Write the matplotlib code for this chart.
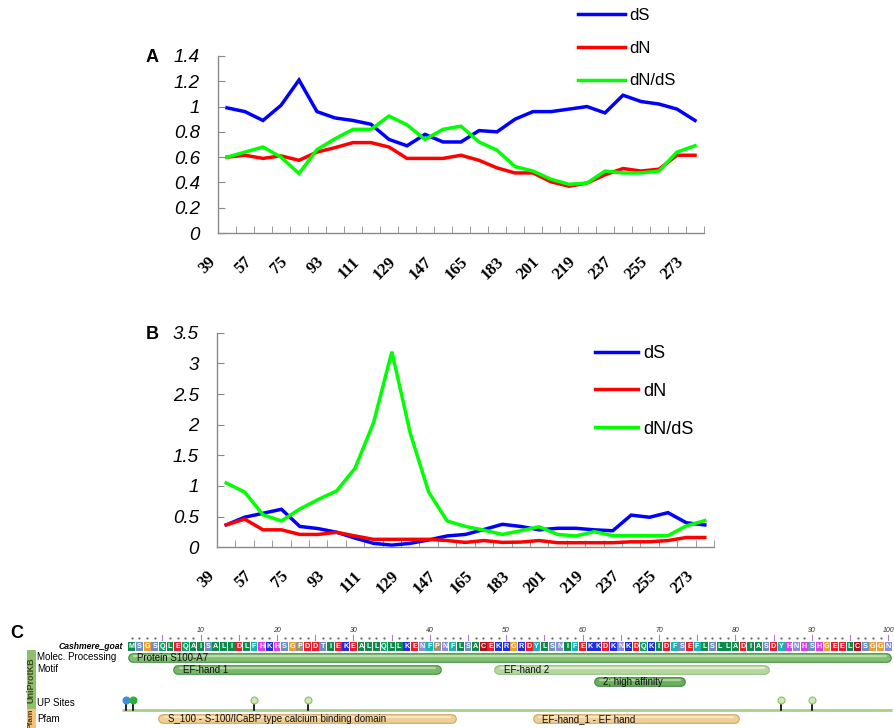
import numpy as np
import matplotlib.pyplot as plt
from matplotlib.patches import Rectangle
from matplotlib.transforms import ScaledTranslation

plt.rcParams['font.family'] = ['Liberation Sans', 'DejaVu Sans']

# window start positions (codon) on the x axis
sites = [39, 48, 57, 66, 75, 84, 93, 102, 111, 120, 129, 138, 147, 156,
         165, 174, 183, 192, 201, 210, 219, 228, 237, 246, 255, 264, 273]

# panel A
dS_a = [0.99, 0.96, 0.89, 1.01, 1.21, 0.96, 0.91, 0.89, 0.86, 0.74, 0.69, 0.78, 0.72, 0.72,
        0.81, 0.80, 0.90, 0.96, 0.96, 0.98, 1.00, 0.95, 1.09, 1.04, 1.02, 0.98, 0.89]
dN_a = [0.60, 0.615, 0.59, 0.61, 0.575, 0.64, 0.675, 0.715, 0.715, 0.68, 0.59, 0.59, 0.59, 0.615,
        0.575, 0.515, 0.475, 0.475, 0.405, 0.37, 0.395, 0.46, 0.51, 0.49, 0.505, 0.615, 0.615]
ratio_a = [0.60, 0.64, 0.68, 0.60, 0.47, 0.66, 0.745, 0.82, 0.82, 0.925, 0.855, 0.74, 0.82, 0.845,
           0.72, 0.655, 0.525, 0.49, 0.425, 0.385, 0.395, 0.49, 0.475, 0.475, 0.49, 0.64, 0.69]

# panel B
dS_b = [0.365, 0.49, 0.555, 0.62, 0.34, 0.305, 0.245, 0.15, 0.065, 0.035, 0.065, 0.12, 0.185, 0.21,
        0.29, 0.375, 0.34, 0.285, 0.31, 0.31, 0.285, 0.27, 0.525, 0.49, 0.565, 0.40, 0.365]
dN_b = [0.365, 0.46, 0.285, 0.285, 0.21, 0.21, 0.245, 0.185, 0.13, 0.13, 0.13, 0.13, 0.11, 0.08,
        0.11, 0.08, 0.085, 0.11, 0.075, 0.075, 0.075, 0.075, 0.09, 0.09, 0.11, 0.16, 0.16]
ratio_b = [1.05, 0.90, 0.53, 0.43, 0.625, 0.78, 0.92, 1.29, 2.03, 3.19, 1.86, 0.90, 0.43, 0.34,
           0.28, 0.21, 0.27, 0.335, 0.21, 0.185, 0.255, 0.19, 0.19, 0.19, 0.19, 0.35, 0.435]

series_names = ['dS', 'dN', 'dN/dS']
series_colors = ['#0000ff', '#ff0000', '#00ff00']

# panel C
species = 'Cashmere_goat'
seq = ('MSGSQLEQAISALIDLFHKHSGPDDTIEKEALLQLLKENFPN'
       'FLSACEKRGRDYLSNIFEKKDKNKDQKIDFSEFLSLLADIASDYHNHSHGEELCSGGN')
molec = [('Protein S100-A7', 1, 100)]
motif = [('EF-hand 1', 7, 41), ('EF-hand 2', 49, 84)]
motif2 = [('2; high affinity', 62, 73)]
pfam = [('S_100 - S-100/ICaBP type calcium binding domain', 5, 43),
        ('EF-hand_1 - EF hand', 54, 80)]
up_sites = [0.3, 1.2, 17, 24, 86, 90]
up_colors = ['#3d8fdc', '#2fae3c', '#cfe8b0', '#cfe8b0', '#cfe8b0', '#cfe8b0']

aa_colors = {}
for a in 'AILMV':
    aa_colors[a] = '#0e8a4c'
for a, c in [('Q', '#10a068'), ('N', '#8a8ed2'), ('S', '#6f8fc2'), ('T', '#6f8fc2'),
             ('F', '#18b4b2'), ('Y', '#18b4b2'), ('W', '#18b4b2'), ('D', '#ea1c2c'),
             ('E', '#ea1c2c'), ('K', '#1e2ee0'), ('R', '#1e2ee0'), ('H', '#e03ce6'),
             ('G', '#e8a030'), ('P', '#9c9080'), ('C', '#a8141c')]:
    aa_colors[a] = c

W, H = 894, 728
fig = plt.figure(figsize=(W / 100, H / 100), dpi=100)


def fx(px):
    return px / W


def fy(py):
    return 1 - py / H


def line_panel(left, right, top, bottom, ymax, ystep, data, letter, leg_xy, leg_size, leg_len, leg_space):
    ax = fig.add_axes([fx(left), fy(bottom), fx(right) - fx(left), (bottom - top) / H])
    x = np.arange(len(sites))
    for vals, name, col in zip(data, series_names, series_colors):
        ax.plot(x, vals, color=col, lw=2.5, label=name, solid_joinstyle='miter')
    ax.set_xlim(-0.5, len(sites) - 0.5)
    ax.set_ylim(0, ymax)
    for s in ['top', 'right']:
        ax.spines[s].set_visible(False)
    for s in ['left', 'bottom']:
        ax.spines[s].set_color('#8a8a8a')
        ax.spines[s].set_linewidth(1)
    yt = np.arange(0, ymax + 1e-9, ystep)
    ax.set_yticks(yt)
    ax.set_yticklabels(['{:g}'.format(round(v, 2)) for v in yt], fontstyle='italic', fontsize=13.5)
    ax.tick_params(axis='y', direction='in', length=5, color='#8a8a8a', pad=13)
    ax.set_xticks(x[::2])
    ax.set_xticklabels([str(s) for s in sites[::2]], rotation=45, ha='right',
                       family='Liberation Serif', fontweight='bold', fontsize=12)
    ax.set_xticks(np.arange(-0.5, len(sites), 1), minor=True)
    ax.tick_params(axis='x', which='major', length=0, pad=15)
    ax.tick_params(axis='x', which='minor', direction='in', length=5, color='#8a8a8a')
    off = ScaledTranslation(-0.08, 0, fig.dpi_scale_trans)
    for lab in ax.get_xticklabels():
        lab.set_transform(lab.get_transform() + off)
    ax.legend(loc='upper left', bbox_to_anchor=(fx(leg_xy[0]), fy(leg_xy[1])),
              bbox_transform=fig.transFigure, frameon=False, fontsize=leg_size,
              handlelength=leg_len, handletextpad=0.3, labelspacing=leg_space,
              borderpad=0, borderaxespad=0)
    fig.text(fx(146), fy(top - 7), letter, fontsize=13, fontweight='bold', va='top')
    return ax


line_panel(218, 704, 56, 233, 1.4, 0.2, [dS_a, dN_a, ratio_a], 'A', (578, 8), 12, 2.8, 1.06)
line_panel(217, 714, 332.7, 547.3, 3.5, 0.5, [dS_b, dN_b, ratio_b], 'B', (595, 345), 13, 2.4, 1.15)

# ---- panel C: sequence track ----
fig.text(fx(10), fy(625), 'C', fontsize=13, fontweight='bold', va='top')
axc = fig.add_axes([fx(128), fy(728), fx(892) - fx(128), (728 - 612) / H])
axc.set_xlim(0.5, 100.5)
axc.set_ylim(728, 612)
axc.axis('off')

res = np.arange(1, len(seq) + 1)
# ruler
for r in res:
    if r % 5 == 0:
        axc.plot([r, r], [634.5, 640], color='#b07ad0', lw=0.8)
    else:
        axc.plot(r, 637.5, '.', color='#666666', ms=1.2)
    if r % 10 == 0:
        axc.text(r, 630, str(r), ha='center', va='center', fontsize=5, fontstyle='italic', color='#333333')
# residues
axc.bar(res, 8.6, bottom=642, width=0.9, color=[aa_colors[a] for a in seq])
for r, a in zip(res, seq):
    axc.text(r, 646.5, a, ha='center', va='center', color='white', fontsize=5.2, fontweight='bold')
fig.text(fx(123), fy(646.5), species, ha='right', va='center', fontsize=6.2,
         fontstyle='italic', fontweight='bold')


def pill(feats, y, face, edge, hi):
    for name, s, e in feats:
        x0, x1 = s - 0.5 + 0.6, e + 0.5 - 0.6
        axc.plot([x0, x1], [y, y], color=edge, lw=7, solid_capstyle='round', clip_on=False)
        axc.plot([x0, x1], [y, y], color=face, lw=5.4, solid_capstyle='round', clip_on=False)
        axc.plot([x0 + 0.2, x1 - 0.2], [y - 1.6, y - 1.6], color=hi, lw=1.6,
                 solid_capstyle='round', clip_on=False)
        axc.text(s - 0.5 + 1.2, y + 0.3, name, va='center', fontsize=7, color='#111111')


pill(molec, 657.5, '#82bd72', '#3f8f3f', '#b8dcaa')
pill(motif[:1], 670, '#7cb86c', '#3f8f3f', '#b4d8a4')
pill(motif[1:], 670, '#b6d8a0', '#8fc07a', '#dcefd0')
pill(motif2, 681.5, '#6cae60', '#3a863a', '#a8d498')
pill(pfam, 718.5, '#f0cf96', '#d0a45e', '#f8e6c4')

# UP sites
axc.plot([-0.3, 100.5], [710, 710], color='#a8d08a', lw=2, clip_on=False, solid_capstyle='butt')
for r, c in zip(up_sites, up_colors):
    axc.plot([r, r], [700, 710], color='black', lw=1.2, clip_on=False)
    axc.plot(r, 699.5, 'o', ms=5, color=c, mec='#8cbf6e' if c == '#cfe8b0' else c, mew=0.8, clip_on=False)

# left labels
for txt, y in [('Molec. Processing', 657.5), ('Motif', 669.5), ('UP Sites', 703), ('Pfam', 718.5)]:
    fig.text(fx(37), fy(y), txt, va='center', fontsize=7)
fig.add_artist(Rectangle((fx(27), fy(709)), fx(36) - fx(27), (709 - 650) / H,
                         transform=fig.transFigure, color='#8fbf6a', lw=0))
fig.add_artist(Rectangle((fx(27), fy(728)), fx(36) - fx(27), (728 - 709) / H,
                         transform=fig.transFigure, color='#f5c27c', lw=0))
fig.text(fx(31.5), fy(680), 'UniProtKB', rotation=90, ha='center', va='center',
         fontsize=6.5, fontweight='bold', color='#3c4a1c')
fig.text(fx(31.5), fy(719), 'Pfam', rotation=90, ha='center', va='center',
         fontsize=6, fontweight='bold', color='#5a3a10')

fig.savefig('out.png', dpi=100)
